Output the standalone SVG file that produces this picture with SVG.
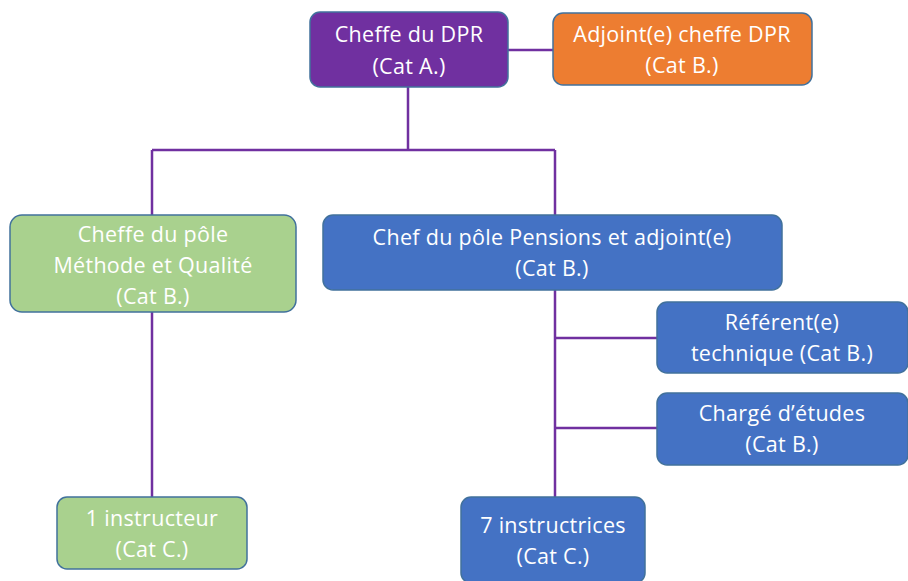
<svg xmlns="http://www.w3.org/2000/svg" width="908" height="581" viewBox="0 0 908 581">
<style>
.box{stroke:#41719C;stroke-width:1.5}
.p{fill:#7030A0}.o{fill:#ED7D31}.g{fill:#A9D18E}.b{fill:#4472C4}
text{font-family:"Open Sans",Lato,sans-serif;font-size:21.5px;letter-spacing:0.3px;fill:#fff;text-anchor:middle}
.c{stroke:#7030A0;stroke-width:2.5;fill:none}
</style>
<rect width="908" height="581" fill="#fff"/>
<g id="connectors">
<path class="c" d="M508 50H553M408 87V150M152 150H555M152 150V215M555 150V215M152 312V497M555 290V497M555 338H657M555 428H657"/>
</g>
<g id="cheffe-dpr"><rect class="box p" x="310" y="12" width="198" height="75" rx="10"/><text x="409" y="42">Cheffe du DPR</text><text x="409" y="74">(Cat A.)</text></g>
<g id="adjoint"><rect class="box o" x="553" y="13" width="259" height="72" rx="10"/><text x="682" y="42">Adjoint(e) cheffe DPR</text><text x="682" y="73">(Cat B.)</text></g>
<g id="pole-methode"><rect class="box g" x="10" y="215" width="286" height="97" rx="12"/><text x="153" y="242">Cheffe du pôle</text><text x="153" y="273">Méthode et Qualité</text><text x="153" y="304">(Cat B.)</text></g>
<g id="pole-pensions"><rect class="box b" x="323" y="215" width="459" height="75" rx="10"/><text x="552" y="245">Chef du pôle Pensions et adjoint(e)</text><text x="552" y="276">(Cat B.)</text></g>
<g id="referent"><rect class="box b" x="657" y="302" width="251" height="71" rx="10"/><text x="782" y="330">Référent(e)</text><text x="782" y="361">technique (Cat B.)</text></g>
<g id="charge"><rect class="box b" x="657" y="393" width="251" height="72" rx="10"/><text x="782" y="421">Chargé d’études</text><text x="782" y="452">(Cat B.)</text></g>
<g id="instructeur"><rect class="box g" x="57" y="497" width="190" height="72" rx="10"/><text x="152" y="526">1 instructeur</text><text x="152" y="557">(Cat C.)</text></g>
<g id="instructrices"><rect class="box b" x="461" y="497" width="184" height="86" rx="10"/><text x="553" y="533">7 instructrices</text><text x="553" y="564">(Cat C.)</text></g>
</svg>
